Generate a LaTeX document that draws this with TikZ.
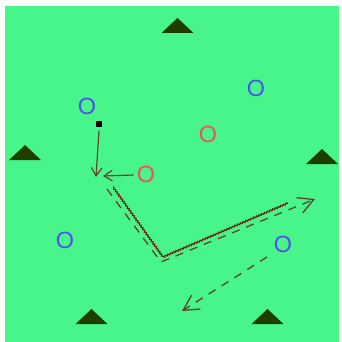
\documentclass[tikz,border=0pt]{standalone}
\usepackage{fontspec}
\setmainfont{Liberation Sans}
\usetikzlibrary{arrows.meta,decorations.pathmorphing}

\definecolor{pitch}{RGB}{72,245,138}
\definecolor{conegreen}{RGB}{30,62,0}
\definecolor{teamblue}{RGB}{80,80,240}
\definecolor{teamred}{RGB}{240,80,100}
\definecolor{runbrown}{RGB}{95,65,45}
\definecolor{dribble}{RGB}{105,30,15}

\tikzset{
  blueplayer/.style={text=teamblue, font=\fontsize{20}{20}\selectfont, inner sep=0pt},
  redplayer/.style={text=teamred, font=\fontsize{20}{20}\selectfont, inner sep=0pt},
  cone/.style={fill=conegreen},
  pass/.style={-{Straight Barb[length=7pt,width=9pt]}, draw=runbrown, line width=1pt},
  run/.style={-{Straight Barb[length=13pt,width=14pt]}, draw=runbrown, line width=1.1pt,
    dash pattern=on 7pt off 6pt},
  dribbleline/.style={draw=dribble, line width=1pt, decorate,
    decoration={zigzag, amplitude=0.6pt, segment length=2.5pt}}
}

\begin{document}
\begin{tikzpicture}[x=0.03cm,y=-0.03cm]
  \useasboundingbox (0,0) rectangle (341,342);
  \fill[pitch] (5,6) rectangle (339,342);

  % cones
  \foreach \cx/\cy in {177.5/25.5, 25/152.5, 322/156.5, 91.5/316.5, 267.5/316.5}
    \fill[cone] (\cx-16,\cy+7.5) -- (\cx,\cy-7.5) -- (\cx+16,\cy+7.5) -- cycle;

  % players
  \node[blueplayer] (b1) at (87,106) {O};
  \node[blueplayer] (b2) at (256,88) {O};
  \node[blueplayer] (b3) at (65,240) {O};
  \node[blueplayer] (b4) at (283,244) {O};
  \node[redplayer] (r1) at (208,134) {O};
  \node[redplayer] (r2) at (146,174) {O};

  % ball
  \node[fill=black, minimum size=5pt, inner sep=0pt] (ball) at (99,124) {};

  \coordinate (recv) at (96,177);
  \coordinate (recv2) at (103,176);
  \coordinate (drA) at (113,187);
  \coordinate (drB) at (163,257);
  \coordinate (drC) at (288,203);
  \coordinate (rnA) at (107,189);
  \coordinate (rnB) at (161,262);
  \coordinate (rnC) at (315,199);
  \coordinate (supA) at (267,257);
  \coordinate (supB) at (182,311);

  \draw[pass] ([yshift=-3pt]ball.south) -- (recv);
  \draw[pass] (r2.west) ++(-3,1) -- (recv2);
  \draw[dribbleline] (drA) -- (drB) -- (drC);
  \draw[run] (rnA) -- (rnB) -- (rnC);
  \draw[run] (supA) -- (supB);
\end{tikzpicture}
\end{document}
